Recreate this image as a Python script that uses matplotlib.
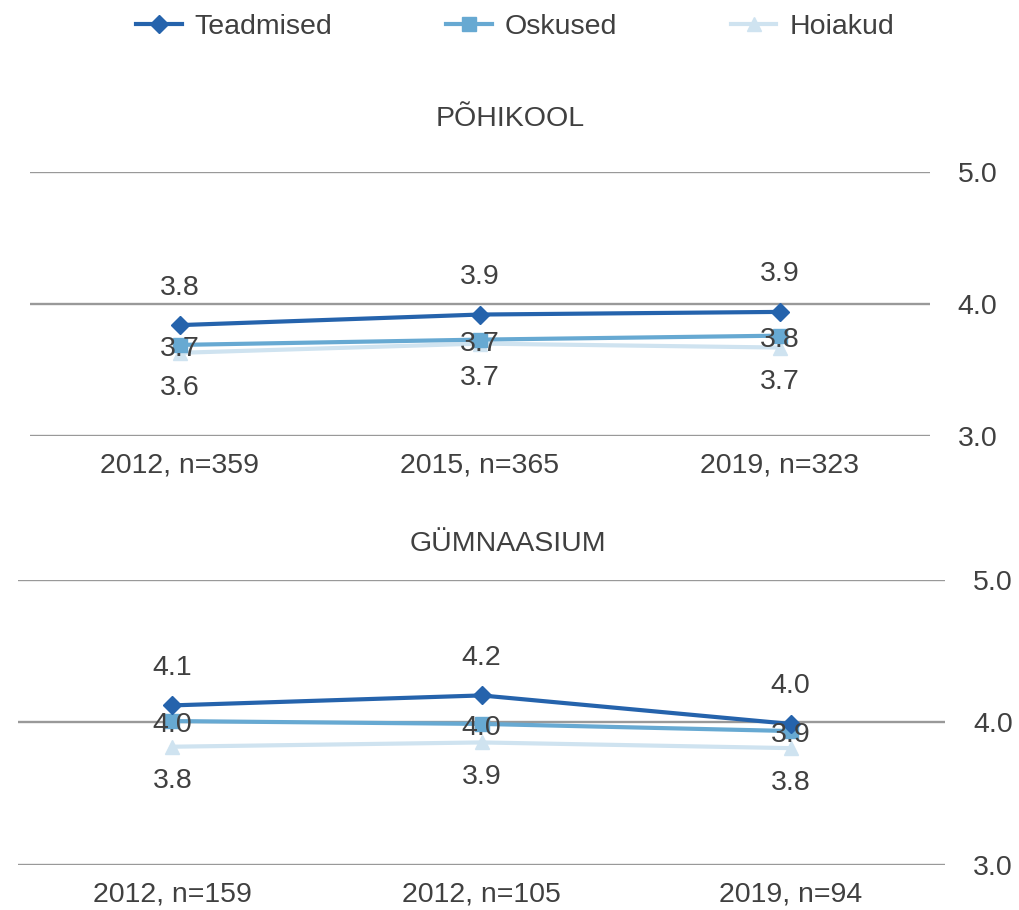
import matplotlib
matplotlib.use('Agg')
import matplotlib.pyplot as plt
from matplotlib.lines import Line2D

plt.rcParams['font.family'] = ['Liberation Sans', 'DejaVu Sans']
txt = '#404040'
fs = 20.5

series = ['Teadmised', 'Oskused', 'Hoiakud']
colors = ['#2563ac', '#67a9d2', '#cfe3f0']
markers = ['D', 's', '^']

# põhikool
pk_labels = ['2012, n=359', '2015, n=365', '2019, n=323']
pk_teadmised = [3.84, 3.92, 3.94]
pk_oskused = [3.69, 3.73, 3.76]
pk_hoiakud = [3.63, 3.70, 3.67]

# gümnaasium
g_labels = ['2012, n=159', '2012, n=105', '2019, n=94']
g_teadmised = [4.12, 4.19, 3.99]
g_oskused = [4.01, 3.99, 3.94]
g_hoiakud = [3.83, 3.86, 3.82]

# label offsets (points): above, on, below
offsets = [27, -3, -25]


def panel(ax, labels, data):
    x = range(len(labels))
    for i in (2, 1, 0):
        ax.plot(x, data[i], color=colors[i], marker=markers[i], lw=3,
                ms=9 if markers[i] == 'D' else 10, zorder=3 + (2 - i))
    for i in range(3):
        for xi, v in zip(x, data[i]):
            ax.annotate('%.1f' % v, (xi, v), xytext=(0, offsets[i]),
                        textcoords='offset points', ha='center', va='center',
                        fontsize=fs, color=txt, zorder=10)
    ax.set_xlim(-0.5, 2.5)
    ax.set_ylim(3, 5)
    ax.set_yticks([3, 4, 5])
    ax.set_yticklabels(['3.0', '4.0', '5.0'])
    ax.yaxis.tick_right()
    ax.set_xticks(list(x))
    ax.set_xticklabels(labels)
    ax.tick_params(axis='both', length=0, labelsize=fs, colors=txt)
    ax.tick_params(axis='y', pad=20)
    ax.tick_params(axis='x', pad=12)
    ax.grid(axis='y', color='#999999', lw=1.7)
    ax.set_axisbelow(True)
    for s in ax.spines.values():
        s.set_visible(False)


fig = plt.figure(figsize=(10.2, 9.1), dpi=100)
ax1 = fig.add_axes([0.0294, 0.5209, 0.882, 0.2901])
ax2 = fig.add_axes([0.0176, 0.0495, 0.909, 0.3131])

panel(ax1, pk_labels, [pk_teadmised, pk_oskused, pk_hoiakud])
panel(ax2, g_labels, [g_teadmised, g_oskused, g_hoiakud])

fig.text(0.5, 1 - 119 / 910, 'PÕHIKOOL', ha='center', va='center', fontsize=fs, color=txt)
fig.text(0.498, 1 - 544 / 910, 'GÜMNAASIUM', ha='center', va='center', fontsize=fs, color=txt)

handles = [Line2D([], [], color=c, marker=m, lw=3, ms=9 if m == 'D' else 10)
           for c, m in zip(colors, markers)]
fig.legend(handles, series, loc='center', bbox_to_anchor=(0.505, 1 - 27 / 910),
           ncol=3, frameon=False, fontsize=fs, labelcolor=txt,
           handlelength=1.6, handletextpad=0.45, columnspacing=4.0)

fig.savefig('out.png', dpi=100)
